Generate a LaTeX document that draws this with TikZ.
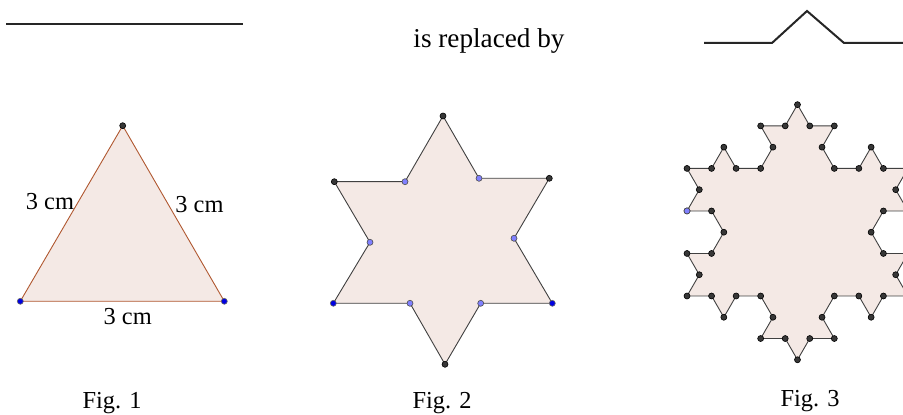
\documentclass[tikz,border=0pt]{standalone}
\usepackage{fontspec}
\setmainfont{Liberation Serif}
\usetikzlibrary{calc}
\definecolor{polyfill}{RGB}{244,233,229}
\definecolor{edgebrown}{RGB}{176,88,48}
\definecolor{ptdark}{RGB}{55,55,55}
\definecolor{ptlight}{RGB}{128,128,255}
\definecolor{ptblue}{RGB}{0,0,225}

\begin{document}
\begin{tikzpicture}[x=0.5pt, y=-0.5pt, every node/.style={font=\fontsize{12.2}{14}\selectfont},
	poly/.style={fill=polyfill, draw=black!75, line width=0.45pt, line join=round},
	rule/.style={line width=1pt, black!85},
	darkpt/.style={fill=ptdark, draw=black, line width=0.3pt},
	lightpt/.style={fill=ptlight, draw=black!70, line width=0.3pt},
	bluept/.style={fill=ptblue, draw=black!60, line width=0.3pt}]
	\clip (0,0) rectangle (903,415);
	% the rule
	\coordinate (l1) at (6,24);
	\coordinate (l2) at (243,24);
	\draw[rule] (l1) -- (l2);
	\node[anchor=base, font=\fontsize{13.6}{16}\selectfont] (rep) at (489,48) {is replaced by};
	\coordinate (b1) at (704,43);
	\coordinate (b2) at (772,43);
	\coordinate (b3) at (807,11);
	\coordinate (b4) at (844,43);
	\coordinate (b5) at (910,43);
	\draw[rule, line join=miter] (b1) -- (b2) -- (b3) -- (b4) -- (b5);
	% Fig. 1
	\coordinate (t1) at (20.3,301.3);
	\coordinate (t2) at (122.7,125.7);
	\coordinate (t3) at (224.3,301.3);
	\filldraw[poly, draw=edgebrown] (t1) -- (t2) -- (t3) -- cycle;
	\filldraw[darkpt] (t2) circle (1.5pt);
	\foreach \p in {t1,t3}
		\filldraw[bluept] (\p) circle (1.5pt);
	\node (sa) at (50,201.7) {3 cm};
	\node (sb) at (199.5,205) {3 cm};
	\node (sc) at (127.7,316.7) {3 cm};
	% Fig. 2
	\foreach \n/\x/\y in {1/333.3/303.3, 2/370/242.3, 3/334.3/181.7, 4/405/181.7, 5/443/116, 6/479/178.3,
		7/549.3/178.3, 8/514/238.3, 9/552.3/303.3, 10/480.7/303.3, 11/445/364.3, 12/410/303.3}
		\coordinate (s\n) at (\x,\y);
	\filldraw[poly] (s1) \foreach \n in {2,...,12} { -- (s\n) } -- cycle;
	\foreach \n in {3,5,7,11}
		\filldraw[darkpt] (s\n) circle (1.5pt);
	\foreach \n in {2,4,6,8,10,12}
		\filldraw[lightpt] (s\n) circle (1.5pt);
	\foreach \n in {1,9}
		\filldraw[bluept] (s\n) circle (1.5pt);
	% Fig. 3
	\def\kl{24.55}
	\coordinate (k0) at (687,296);
	\path (k0) \foreach \s [count=\i] in {-60,60,180} {
		\foreach \o [count=\j] in {0,-60,60,0,-60,-120,0,-60,60,0,120,60,0,-60,60,0} {
			++({\s+(\o)}:\kl) coordinate (k\i-\j)
		}
	};
	\filldraw[poly] (k0) \foreach \i in {1,2,3} { \foreach \j in {1,...,16} { -- (k\i-\j) } } -- cycle;
	\foreach \i in {1,2,3}
		\foreach \j in {1,...,16}
			\filldraw[darkpt] (k\i-\j) circle (1.5pt);
	\filldraw[lightpt] (k1-6) circle (1.5pt);
	% captions
	\node[anchor=base] (f1) at (112,409) {Fig. 1};
	\node[anchor=base] (f2) at (442,409) {Fig. 2};
	\node[anchor=base] (f3) at (810,407) {Fig. 3};
\end{tikzpicture}
\end{document}
